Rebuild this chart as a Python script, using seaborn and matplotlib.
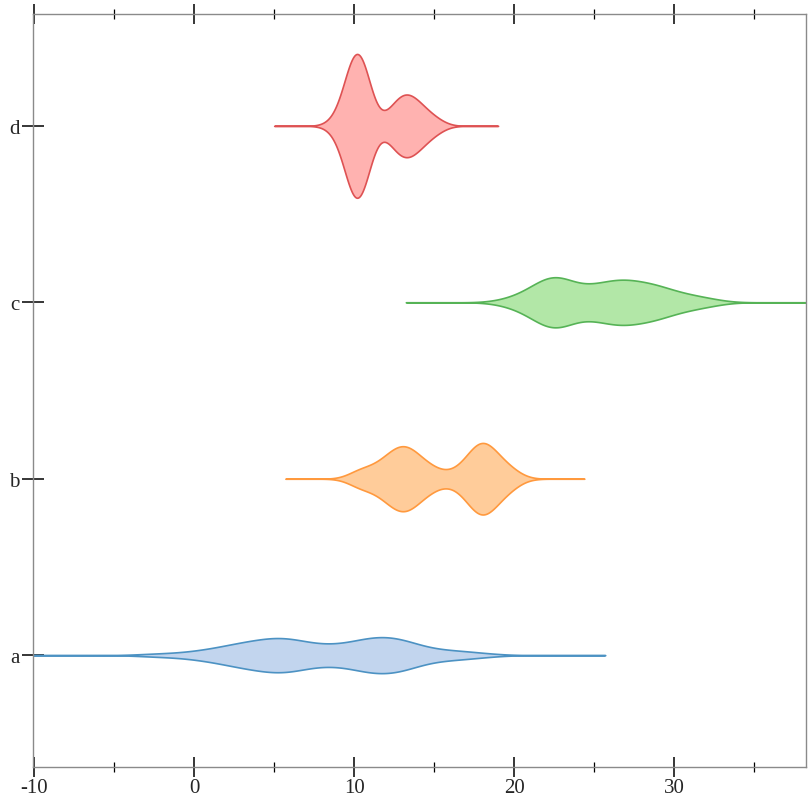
import numpy as np
import pandas as pd
import matplotlib
matplotlib.use("Agg")
import matplotlib.pyplot as plt
import seaborn as sns
from matplotlib.ticker import MultipleLocator

# ---- data: observed values per group and how often each was observed ----
categories = ["a", "b", "c", "d"]

a_values = [-2.5, -0.9, 0.4, 1.6, 2.8, 3.9, 5.0, 6.1, 7.3, 8.5, 9.7, 10.8, 11.9, 13.0, 14.2, 15.5, 16.7, 18.1]
a_counts = [2, 2, 4, 6, 10, 10, 14, 14, 8, 8, 8, 14, 14, 14, 6, 4, 4, 2]

b_values = [10.42, 11.6, 12.4, 13.1, 13.8, 14.8, 16.2, 17.3, 18.0, 18.7, 19.67]
b_counts = [9, 9, 14, 18, 14, 9, 5, 14, 23, 14, 9]

c_values = [19.5, 20.5, 21.4, 22.2, 22.9, 23.6, 24.6, 25.5, 26.3, 27.1, 27.9, 28.8, 29.8, 30.8, 31.6, 32.35]
c_counts = [1, 2, 4, 6, 6, 3, 4, 4, 5, 5, 4, 5, 3, 2, 1, 1]

d_values = [8.9, 9.75, 10.2, 10.65, 12.4, 13.0, 13.6, 14.3, 15.1]
d_counts = [1, 6, 6, 6, 2, 3, 3, 2, 1]

x_ticks = [-10, 0, 10, 20, 30]

fill_colors = {"a": "#c2d5ee", "b": "#ffcc9a", "c": "#b2e7a7", "d": "#ffb2b0"}
line_colors = {"a": "#4c92c3", "b": "#ff993e", "c": "#56b356", "d": "#de5253"}

groups = {"a": (a_values, a_counts), "b": (b_values, b_counts),
          "c": (c_values, c_counts), "d": (d_values, d_counts)}
df = pd.concat(
    [pd.DataFrame({"group": g, "value": np.repeat(v, c)}) for g, (v, c) in groups.items()],
    ignore_index=True,
)

# ---- style ----
sns.set_style("white")
plt.rcParams["font.family"] = ["Liberation Serif", "DejaVu Serif"]
plt.rcParams["axes.unicode_minus"] = False

fig = plt.figure(figsize=(8.12, 8.12), dpi=100)
ax = fig.add_axes([33 / 812, 1 - 768 / 812, (806 - 33) / 812, (768 - 15) / 812])

order = ["d", "c", "b", "a"]
sns.violinplot(
    data=df, x="value", y="group", hue="group",
    order=order, hue_order=order, palette=fill_colors, legend=False,
    orient="h", inner=None, bw_method="scott", bw_adjust=0.731, cut=6,
    gridsize=400, density_norm="area", common_norm=True, width=0.815,
    linewidth=1.2, saturation=1, ax=ax,
)

# outline colours per violin (identify each by its centre position)
for coll in ax.collections:
    paths = coll.get_paths()
    if not paths:
        continue
    yc = paths[0].vertices[:, 1].mean()
    idx = int(round(yc))
    if 0 <= idx < len(order):
        coll.set_edgecolor(line_colors[order[idx]])
        coll.set_facecolor(fill_colors[order[idx]])

ax.set_xlim(-10.07, 38.24)
ax.set_ylim(3.634, -0.634)
ax.set_xlabel("")
ax.set_ylabel("")

ax.set_xticks(x_ticks)
ax.xaxis.set_minor_locator(MultipleLocator(5))
ax.tick_params(axis="x", which="major", direction="inout", length=14.5, width=1.1,
               color="black", top=True, bottom=True, labeltop=False, labelbottom=True,
               labelsize=15, pad=1)
ax.tick_params(axis="x", which="minor", direction="inout", length=7.2, width=0.9,
               color="black", top=True, bottom=True)
ax.tick_params(axis="y", which="major", direction="inout", length=15.5, width=1.1,
               color="black", left=True, right=False, labelsize=15, pad=2)
ax.tick_params(axis="y", which="minor", left=False, right=False)

for s in ax.spines.values():
    s.set_visible(True)
    s.set_color("#8a8a8a")
    s.set_linewidth(1.0)

fig.savefig("out.png", dpi=100, facecolor="white")
